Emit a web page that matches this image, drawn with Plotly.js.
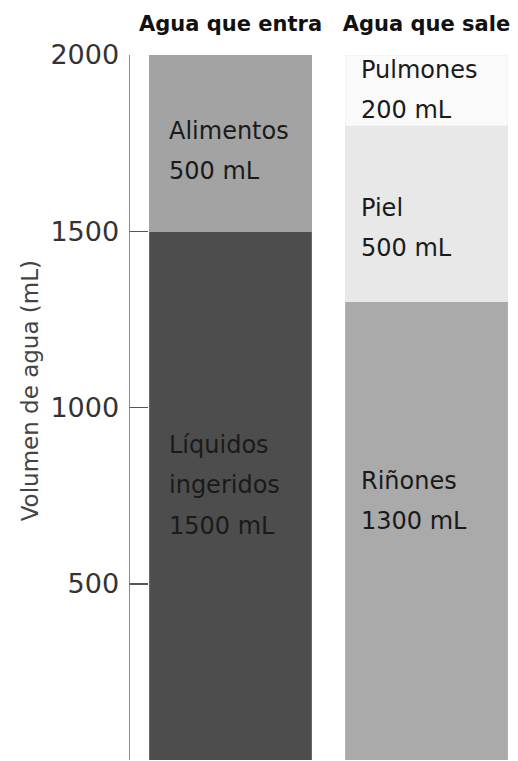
<!DOCTYPE html>
<html>
<head>
<meta charset="utf-8">
<script src="https://cdn.plot.ly/plotly-3.0.1.min.js"></script>
<style>html,body{margin:0;padding:0;background:#fff;}#chart{width:518px;height:761px;}</style>
</head>
<body>
<div id="chart"></div>
<script>
// ---- data ----
const categories = ['Agua que entra', 'Agua que sale'];
const entraNames = ['Líquidos<br>ingeridos', 'Alimentos'];
const entraValues = [1500, 500];
const saleNames = ['Riñones', 'Piel', 'Pulmones'];
const saleValues = [1300, 500, 200];
const yTickVals = [0, 500, 1000, 1500, 2000];
const yTickText = ['', '500', '1000', '1500', '2000'];
const yTitle = 'Volumen de agua (mL)';
const unit = 'mL';

// ---- styles ----
const entraColors = ['#4d4d4d', '#a3a3a3'];
const entraLines = ['#6a6a6a', '#a3a3a3'];
const saleColors = ['#aaaaaa', '#e8e8e8', '#fafafa'];
const saleLines = ['#b0b0b0', '#e8e8e8', '#f4f4f4'];
const entraLabelShift = {x: -64, y: [10, -8]};
const saleLabelShift = {x: -68, y: [30, -14, 0]};
const FONT = 'DejaVu Sans, sans-serif';

const traces = [];
const annotations = [];
function addGroup(cat, names, values, colors, lines, shift) {
  let base = 0;
  names.forEach((n, i) => {
    traces.push({
      type: 'bar', x: [cat], y: [values[i]], name: n.replace('<br>', ' '),
      marker: {color: colors[i], line: {width: 1, color: lines[i]}},
      width: 0.83, hoverinfo: 'skip', showlegend: false
    });
    annotations.push({
      x: cat, xref: 'x', y: base + values[i] / 2, yref: 'y',
      xanchor: 'left', yanchor: 'middle', xshift: shift.x, yshift: shift.y[i], align: 'left',
      showarrow: false,
      text: '<span style="font-size:24px">' + n + '<br>' + values[i] + ' ' + unit + '</span>',
      font: {family: FONT, size: 31, color: '#1a1a1a'}
    });
    base += values[i];
  });
}
addGroup(categories[0], entraNames, entraValues, entraColors, entraLines, entraLabelShift);
addGroup(categories[1], saleNames, saleValues, saleColors, saleLines, saleLabelShift);

annotations.push({
  xref: 'paper', yref: 'paper', x: -0.263, y: 0.523,
  xanchor: 'center', yanchor: 'middle', textangle: -90, showarrow: false,
  text: yTitle, font: {family: FONT, size: 23, color: '#444'}
});

const layout = {
  width: 518, height: 761,
  margin: {l: 130, r: 8, t: 55, b: 1, pad: 0},
  paper_bgcolor: '#fff', plot_bgcolor: '#fff',
  barmode: 'stack', bargap: 0,
  showlegend: false,
  xaxis: {
    type: 'category', side: 'top', range: [-0.513, 1.426],
    tickvals: categories, ticktext: categories.map(c => '<b>' + c + '</b>'),
    tickfont: {family: FONT, size: 21, color: '#111'},
    showline: false, showgrid: false, zeroline: false, ticks: '',
    ticklabelstandoff: 19
  },
  yaxis: {
    range: [0, 2000], tickvals: yTickVals, ticktext: yTickText,
    ticks: 'inside', ticklen: 18, tickwidth: 1.5, tickcolor: '#555',
    showline: true, linecolor: '#888', linewidth: 1.5,
    showgrid: false, zeroline: false,
    tickfont: {family: FONT, size: 27, color: '#333'},
    ticklabelstandoff: 4
  },
  annotations: annotations
};
Plotly.newPlot('chart', traces, layout, {displayModeBar: false, staticPlot: true});
</script>
</body>
</html>
